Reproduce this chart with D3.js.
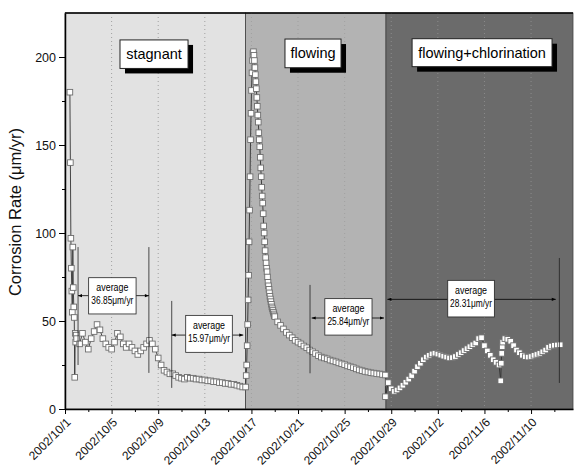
<!DOCTYPE html>
<html>
<head>
<meta charset="utf-8">
<script src="https://cdn.jsdelivr.net/npm/d3@7"></script>
<style>
  body { margin: 0; background: #fff; }
  svg { display: block; font-family: 'Liberation Sans', Arial, sans-serif; }
</style>
</head>
<body>
<svg id="chart"></svg>
<script>
// days counted from 2002/10/1 00:00
const startupRate = [180, 140, 97, 80, 67, 55, 92, 69, 58, 52, 18, 43, 38, 42]; // hourly from day 0.42
const stagnantRate = [40, 37, 43, 38, 34, 40, 44, 48, 45, 40, 37, 35, 34, 38, 43, 41, 37, 35, 37, 35,
  33, 31, 33, 35, 37, 39, 37, 34, 29, 25, 22, 21, 20, 20, 19, 18, 17.5, 17, 18, 17.5,
  17.5, 17, 17, 16.5, 16.5, 16, 16, 15.5, 15.5, 15, 15, 14.5, 14.5, 14, 14, 13.5, 13, 12.5, 12.5]; // every 6 h from day 1.0
const switchRate = [19, 25, 36, 48, 62, 76, 95, 113, 132, 153, 168, 181, 191, 198, 202,
  203, 201, 198, 194, 190, 186, 182, 177, 172, 167, 163, 157, 153, 149, 143, 137, 132, 126, 121, 117, 111,
  104, 100, 95, 90, 86, 83, 80, 78, 75, 72, 70, 68, 66, 64, 62.5, 61, 59.5, 58, 57, 56, 55, 54, 53, 52.5]; // hourly from day 15.55
const flowingRate = [49.5, 47.5, 45.5, 43.5, 42, 40.5, 39, 38, 37, 35.8, 34.8, 33.5, 32.5, 31.5, 30.3, 29.5,
  29, 28.5, 27.8, 27.3, 26.8, 26.2, 25.7, 25.2, 24.5, 24, 23.5, 22.8, 22.2, 21.8, 21.3, 21, 20.6, 20.4,
  20.1, 19.9, 19.6, 19.3]; // every 6 h from day 18.25
const chlorRateA = [7, 15, 11.5, 10, 10.8, 12, 13.5, 15.2, 17, 19, 21.5, 24, 26, 28, 29.5, 30.5, 31.3, 31.7,
  31.2, 30.6, 30, 29.5, 29, 29.2, 29.8, 31, 32, 33.2, 34.3, 35.4, 36.5, 37.5, 40, 40.5, 36, 33, 30.5,
  28, 26.5, 25]; // every 6 h from day 27.5
const chlorRateB = [16, 26, 31.6, 35.4, 38]; // hourly from day 37.4
const chlorRateC = [40, 39.6, 38.5, 36, 33.5, 32, 30.5, 29.7, 29.5, 29.8, 30.5, 31, 31.6, 32.5, 33.5, 35,
  35.8, 36.2, 36.4, 36.5]; // every 6 h from day 37.75

const periods = [
  { name: 'stagnant', from: 0, to: 15.5 },
  { name: 'flowing', from: 15.5, to: 27.55 },
  { name: 'flowing+chlorination', from: 27.55, to: 43.6 }
];
const averages = [
  { value: '36.85\u03bcm/yr', box: [2.03, 6.1, 74.6, 54], arrow: [1.12, 7.2, 64.4],
    lines: [[1.12, 92, 25], [7.2, 92, 20.5]] },
  { value: '15.97\u03bcm/yr', box: [10.36, 14.36, 53.2, 32.2], arrow: [9.16, 15.3, 42],
    lines: [[9.16, 61.4, 12]] },
  { value: '25.84\u03bcm/yr', box: [22.3, 26.35, 62.7, 42], arrow: [21.17, 27.38, 51.7],
    lines: [[21.03, 70.5, 20.3]] },
  { value: '28.31\u03bcm/yr', box: [32.85, 36.85, 73.1, 52.3], arrow: [27.67, 42.12, 62.3],
    lines: [[42.43, 85.8, 14.8]] }
];
const periodBoxes = [[4.72, 10.56, 209.7, 193.5], [18.88, 23.69, 210.2, 193.9], [29.79, 41.8, 210.4, 194.5]];

const width = 574, height = 470;
const marginTop = 13, marginRight = 1, marginBottom = 61, marginLeft = 65;
const day0 = new Date(2002, 9, 1);
const toDate = (d) => new Date(day0.getTime() + d * 864e5);

const points = [];
[[0.42, 1 / 24, startupRate], [1.0, 0.25, stagnantRate], [15.55, 1 / 24, switchRate],
 [18.25, 0.25, flowingRate], [27.5, 0.25, chlorRateA], [37.4, 1 / 24, chlorRateB], [37.75, 0.25, chlorRateC]]
  .forEach(([t0, step, vals]) => vals.forEach((v, i) => points.push({ t: toDate(t0 + i * step), v })));

const svg = d3.select('#chart').attr('width', width).attr('height', height);
const x = d3.scaleTime([day0, toDate(43.6)], [marginLeft, width - marginRight]);
const y = d3.scaleLinear([0, 225], [height - marginBottom, marginTop]);
const X = (d) => x(toDate(d));

/**
 * background periods
 */
const bg = ['#e2e2e2', '#b3b3b3', '#6b6b6b'];
svg.append('g').selectAll('rect').data(periods).join('rect')
  .attr('x', (p) => X(p.from)).attr('y', marginTop)
  .attr('width', (p) => X(p.to) - X(p.from)).attr('height', y(0) - marginTop)
  .attr('fill', (p, i) => bg[i]).attr('stroke', '#444').attr('stroke-width', 0.8);

const majorTicks = d3.range(0, 44, 4).map(toDate);
const minorTicks = d3.range(2, 44, 4).map(toDate);

// dotted grid
svg.append('g').selectAll('line').data(majorTicks.slice(1)).join('line')
  .attr('x1', (d) => x(d)).attr('x2', (d) => x(d))
  .attr('y1', marginTop).attr('y2', y(0))
  .attr('stroke', (d) => (d > toDate(27.55) ? '#8c8c8c' : '#a0a0a0'))
  .attr('stroke-width', 1).attr('stroke-dasharray', '1,3');

/**
 * series
 */
const line = d3.line().x((p) => x(p.t)).y((p) => y(p.v));
svg.append('path').attr('d', line(points))
  .attr('fill', 'none').attr('stroke', '#333').attr('stroke-width', 0.9);
svg.append('g').selectAll('rect').data(points).join('rect')
  .attr('x', (p) => x(p.t) - 2.8).attr('y', (p) => y(p.v) - 2.8)
  .attr('width', 5.6).attr('height', 5.6)
  .attr('fill', '#fff').attr('stroke', '#6e6e6e').attr('stroke-width', 0.9);

/**
 * average annotations
 */
svg.append('defs').append('marker')
  .attr('id', 'ah').attr('viewBox', '0 0 10 10').attr('refX', 10).attr('refY', 5)
  .attr('markerWidth', 6).attr('markerHeight', 5).attr('orient', 'auto-start-reverse')
  .append('path').attr('d', 'M0,1L10,5L0,9z').attr('fill', '#000');

const ann = svg.append('g');
averages.forEach((a) => {
  const [b0, b1, bt, bb] = a.box;
  a.lines.forEach(([d, v0, v1]) => {
    ann.append('line').attr('x1', X(d)).attr('x2', X(d)).attr('y1', y(v0)).attr('y2', y(v1))
      .attr('stroke', '#222').attr('stroke-width', 0.8);
  });
  ann.append('line').attr('x1', X(b0)).attr('x2', X(a.arrow[0])).attr('y1', y(a.arrow[2])).attr('y2', y(a.arrow[2]))
    .attr('stroke', '#000').attr('stroke-width', 0.8).attr('marker-end', 'url(#ah)');
  ann.append('line').attr('x1', X(b1)).attr('x2', X(a.arrow[1])).attr('y1', y(a.arrow[2])).attr('y2', y(a.arrow[2]))
    .attr('stroke', '#000').attr('stroke-width', 0.8).attr('marker-end', 'url(#ah)');
  ann.append('rect').attr('x', X(b0)).attr('y', y(bt)).attr('width', X(b1) - X(b0)).attr('height', y(bb) - y(bt))
    .attr('fill', '#fff').attr('stroke', '#222').attr('stroke-width', 0.8);
  const cx = (X(b0) + X(b1)) / 2, cy = (y(bt) + y(bb)) / 2;
  ann.append('text').attr('x', cx).attr('y', cy - 4.5).attr('text-anchor', 'middle')
    .attr('font-size', 10).attr('textLength', 32).attr('lengthAdjust', 'spacingAndGlyphs').text('average');
  ann.append('text').attr('x', cx).attr('y', cy + 8).attr('text-anchor', 'middle')
    .attr('font-size', 10).attr('textLength', 42).attr('lengthAdjust', 'spacingAndGlyphs').text(a.value);
});

// period labels with shadow
const lab = svg.append('g');
periods.forEach((p, i) => {
  const [d0, d1, vt, vb] = periodBoxes[i];
  const bx = X(d0), by = y(vt), bw = X(d1) - X(d0), bh = y(vb) - y(vt);
  lab.append('rect').attr('x', bx + 5).attr('y', by + 5).attr('width', bw).attr('height', bh).attr('fill', '#000');
  lab.append('rect').attr('x', bx).attr('y', by).attr('width', bw).attr('height', bh)
    .attr('fill', '#fff').attr('stroke', '#222').attr('stroke-width', 1);
  lab.append('text').attr('x', bx + bw / 2).attr('y', by + bh / 2).attr('dy', '0.35em')
    .attr('text-anchor', 'middle').attr('font-size', 14.5).text(p.name);
});

/**
 * axes
 */
const fmt = d3.timeFormat('%Y/%-m/%-d');
svg.append('g').attr('transform', `translate(0,${y(0)})`)
  .call(d3.axisBottom(x).tickValues(minorTicks).tickSize(3).tickFormat(''))
  .call((g) => g.select('.domain').remove());
svg.append('g').attr('transform', `translate(0,${y(0)})`)
  .call(d3.axisBottom(x).tickValues(majorTicks).tickSize(5).tickSizeOuter(0).tickFormat(fmt))
  .call((g) => g.select('.domain').attr('stroke-width', 1.5))
  .call((g) => g.selectAll('.tick text')
    .attr('font-size', 12).attr('font-family', 'Liberation Sans, Arial, sans-serif').attr('fill', '#111')
    .attr('x', 0).attr('y', 0).attr('dy', '0.35em')
    .attr('transform', 'translate(3,11) rotate(-45)').style('text-anchor', 'end'));

svg.append('g').attr('transform', `translate(${marginLeft},0)`)
  .call(d3.axisLeft(y).tickValues(d3.range(25, 225, 50)).tickSize(3).tickFormat(''))
  .call((g) => g.select('.domain').remove());
svg.append('g').attr('transform', `translate(${marginLeft},0)`)
  .call(d3.axisLeft(y).tickValues(d3.range(0, 201, 50)).tickSize(6).tickSizeOuter(0))
  .call((g) => g.select('.domain').attr('stroke-width', 1.5))
  .call((g) => g.selectAll('.tick text').attr('font-size', 12.5)
    .attr('font-family', 'Liberation Sans, Arial, sans-serif').attr('fill', '#111'));

svg.append('line').attr('x1', marginLeft).attr('x2', width - marginRight)
  .attr('y1', marginTop).attr('y2', marginTop).attr('stroke', '#000').attr('stroke-width', 1.5);

svg.append('text').attr('transform', `translate(21,212) rotate(-90)`)
  .attr('text-anchor', 'middle').attr('font-size', 16.5).attr('fill', '#111')
  .text('Corrosion Rate (\u03bcm/yr)');
</script>
</body>
</html>
